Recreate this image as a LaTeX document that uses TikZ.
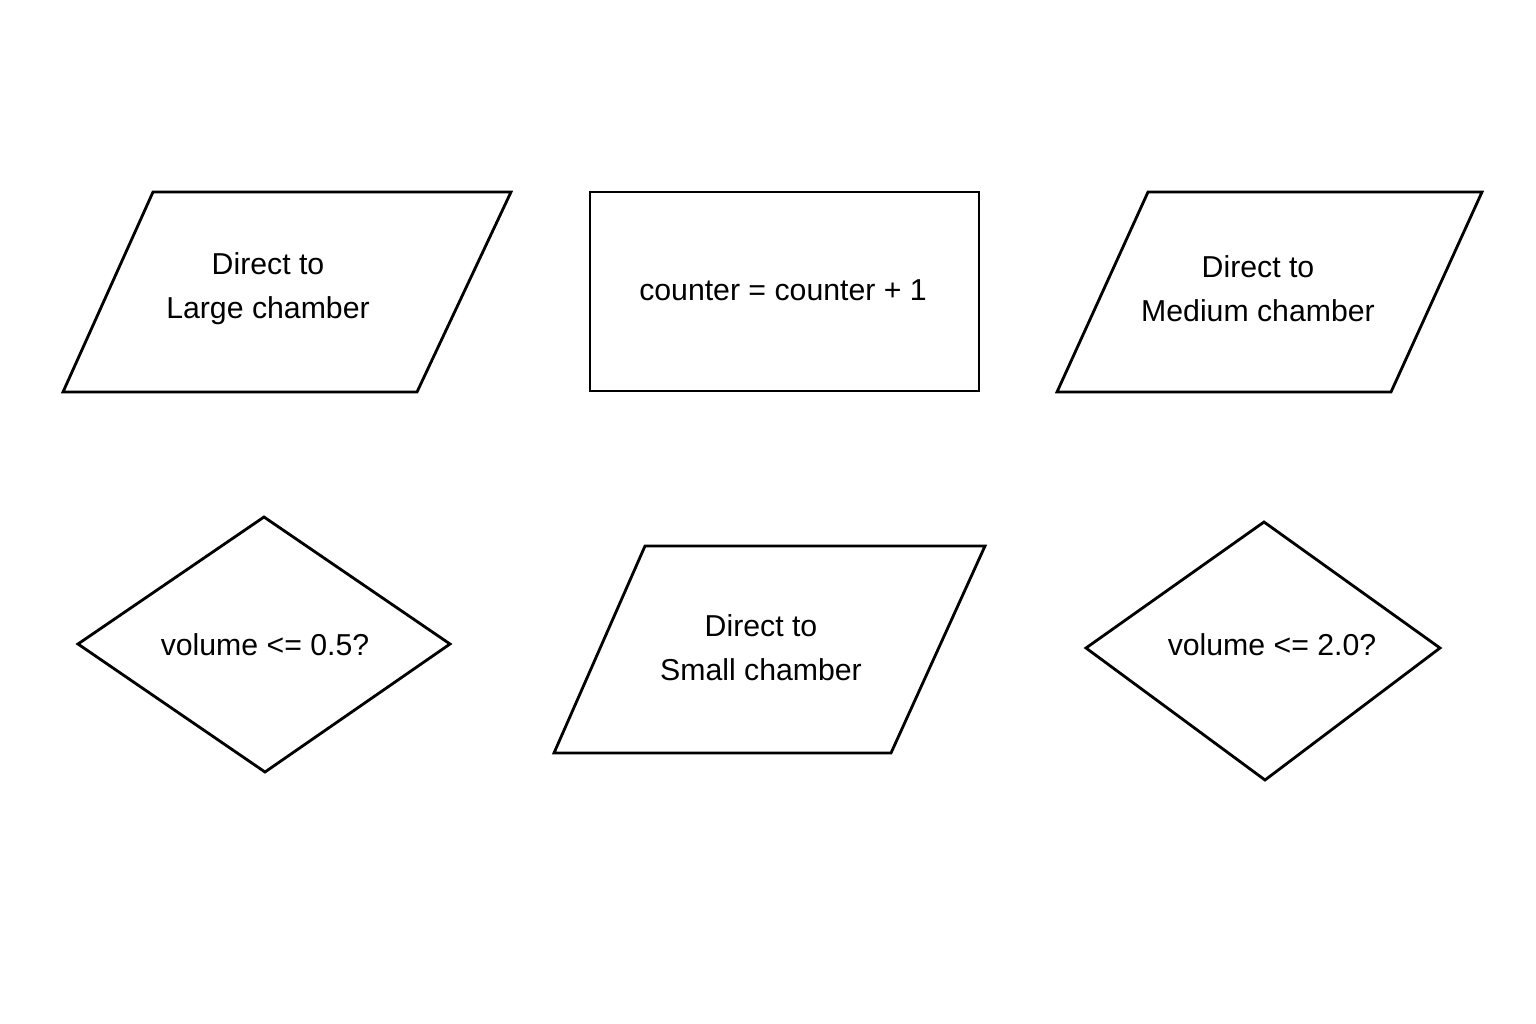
\documentclass[tikz,border=0pt]{standalone}
\usepackage{fontspec}
\setmainfont{Liberation Sans}
\begin{document}
\begin{tikzpicture}[x=0.01cm,y=-0.01cm,
  shp/.style={draw=black,line width=0.8pt,line join=miter},
  lbl/.style={font=\fontsize{8.6pt}{12.5pt}\selectfont,align=center,inner sep=0pt}]
\useasboundingbox[fill=white] (0,0) rectangle (1536,1024);
\draw[shp] (153,192) -- (511,192) -- (417,392) -- (63,392) -- cycle;
\draw[shp] (590,192) rectangle (979,391);
\draw[shp] (1148,192) -- (1482,192) -- (1391,392) -- (1057,392) -- cycle;
\draw[shp] (264,517) -- (450,644) -- (265,772) -- (78,644) -- cycle;
\draw[shp] (645,546) -- (985,546) -- (891,753) -- (554,753) -- cycle;
\draw[shp] (1264,522) -- (1440,648) -- (1265,780) -- (1086,648) -- cycle;
\node[lbl] (large) at (268,289) {Direct to\\Large chamber};
\node[lbl] (counter) at (783,290) {counter = counter + 1};
\node[lbl] (medium) at (1258,289) {Direct to\\Medium chamber};
\node[lbl] (v05) at (265,645) {volume <= 0.5?};
\node[lbl] (small) at (761,648) {Direct to\\Small chamber};
\node[lbl] (v20) at (1272,645) {volume <= 2.0?};
\end{tikzpicture}
\end{document}
